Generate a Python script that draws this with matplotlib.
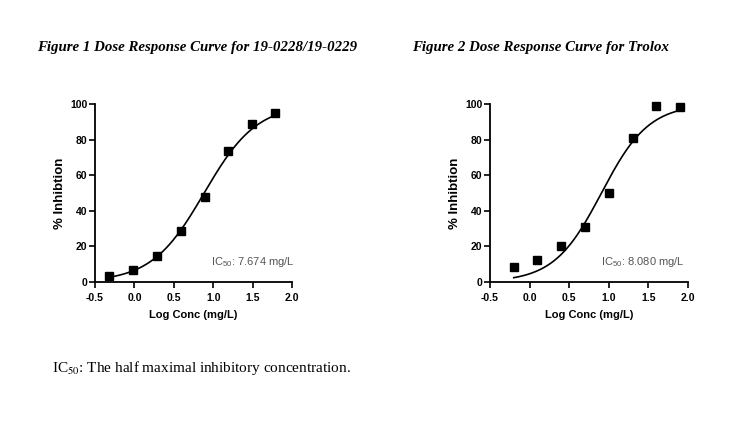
import numpy as np
import matplotlib
matplotlib.use("Agg")
import matplotlib.pyplot as plt

plt.rcParams['mathtext.fontset'] = 'custom'
plt.rcParams['mathtext.rm'] = 'Liberation Sans'
plt.rcParams['mathtext.it'] = 'Liberation Sans:italic'
plt.rcParams['mathtext.bf'] = 'Liberation Sans:bold'

# Figure 1: 19-0228/19-0229
log_conc_1 = [-0.32, -0.02, 0.29, 0.59, 0.89, 1.19, 1.49, 1.79]
inhib_1 = [3.5, 7.0, 14.5, 28.5, 48.0, 73.5, 88.5, 95.0]
ic50_1 = 7.674
hill_1 = 1.3

# Figure 2: Trolox
log_conc_2 = [-0.2, 0.1, 0.4, 0.7, 1.0, 1.3, 1.6, 1.9]
inhib_2 = [8.5, 12.5, 20.0, 31.0, 50.0, 81.0, 99.0, 98.5]
ic50_2 = 8.080
hill_2 = 1.45

bottom_pct = 0.0
top_pct = 100.0

titles = ['Figure 1 Dose Response Curve for 19-0228/19-0229',
          'Figure 2 Dose Response Curve for Trolox']
xticks = [-0.5, 0.0, 0.5, 1.0, 1.5, 2.0]
yticks = [0, 20, 40, 60, 80, 100]


def four_pl(x, ic50, hill):
    return bottom_pct + (top_pct - bottom_pct) / (1 + 10 ** ((np.log10(ic50) - x) * hill))


fig = plt.figure(figsize=(7.5, 4.24), dpi=100)
fig.patch.set_facecolor('white')

ax1 = fig.add_axes([0.1267, 0.3349, 0.2627, 0.4198])
ax2 = fig.add_axes([0.6533, 0.3349, 0.2640, 0.4198])

# right edge of the IC50 note, in data units
note_x = [2.03, 1.96]

for i, (ax, xs, ys, ic50, hill) in enumerate([(ax1, log_conc_1, inhib_1, ic50_1, hill_1),
                                              (ax2, log_conc_2, inhib_2, ic50_2, hill_2)]):
    xfit = np.linspace(min(xs), max(xs), 200)
    ax.plot(xfit, four_pl(xfit, ic50, hill), color='black', lw=1.2)
    ax.plot(xs, ys, 's', color='black', markersize=5.5, clip_on=False, zorder=3)

    ax.set_xlim(-0.5, 2.0)
    ax.set_ylim(0, 100)
    ax.set_xticks(xticks)
    ax.set_yticks(yticks)
    ax.set_xticklabels(['%.1f' % t for t in xticks])
    ax.spines['top'].set_visible(False)
    ax.spines['right'].set_visible(False)
    ax.spines['left'].set_linewidth(1.3)
    ax.spines['bottom'].set_linewidth(1.3)
    ax.tick_params(direction='out', length=4, width=1.2, labelsize=7.5)
    ax.tick_params(axis='x', pad=4)
    ax.tick_params(axis='y', pad=1.5)
    for lab in ax.get_xticklabels() + ax.get_yticklabels():
        lab.set_fontfamily('Liberation Sans')
        lab.set_fontweight('bold')
    ax.set_xlabel('Log Conc (mg/L)', fontsize=8, fontweight='bold',
                  family='Liberation Sans', labelpad=5)
    ax.set_ylabel('% Inhibtion', fontsize=9.5, fontweight='bold',
                  family='Liberation Sans', labelpad=3)
    ax.text(note_x[i], 11.2, r'IC$_{50}$: %.3f mg/L' % ic50,
            ha='right', va='center', fontsize=8, color='#555555',
            family='Liberation Sans', math_fontfamily='custom')

fig.text(37 / 750, 1 - 47 / 424, titles[0], ha='left', va='center',
         fontsize=10.7, fontweight='bold', fontstyle='italic', family='Liberation Serif')
fig.text(412 / 750, 1 - 47 / 424, titles[1], ha='left', va='center',
         fontsize=10.7, fontweight='bold', fontstyle='italic', family='Liberation Serif')

fig.text(52 / 750, 1 - 368 / 424,
         r'IC$_{50}$: The half maximal inhibitory concentration.',
         ha='left', va='center', fontsize=11, family='Liberation Serif',
         math_fontfamily='stix')

fig.savefig('out.png', dpi=100)
